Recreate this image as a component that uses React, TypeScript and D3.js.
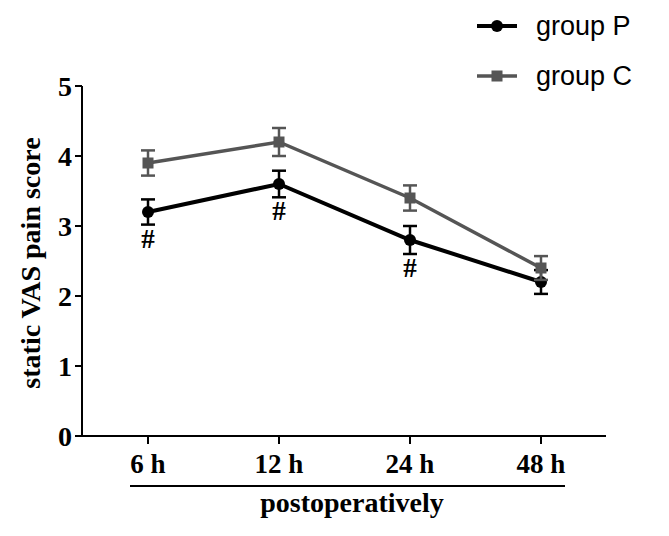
import * as d3 from "d3";

const timepoints = ["6 h", "12 h", "24 h", "48 h"];
const groupP = [3.2, 3.6, 2.8, 2.2];
const groupPErr = [0.18, 0.19, 0.2, 0.17];
const groupC = [3.9, 4.2, 3.4, 2.4];
const groupCErr = [0.18, 0.2, 0.18, 0.17];
const sigMarks = [true, true, true, false];
const yTicks = [0, 1, 2, 3, 4, 5];

const serif = "'Liberation Serif', 'Times New Roman', serif";
const sans = "'Liberation Sans', Arial, sans-serif";

export default function App() {
  const W = 669;
  const H = 536;
  const axisX = 82;
  const axisY = 436;
  const axisRight = 606;

  const x = d3.scalePoint<string>().domain(timepoints).range([148, 541]);
  const y = d3.scaleLinear().domain([0, 5]).range([axisY, 86]);

  const line = d3
    .line<number>()
    .x((_, i) => x(timepoints[i]) as number)
    .y((d) => y(d));

  const series = [
    { name: "group P", vals: groupP, err: groupPErr, color: "#000", width: 4, shape: "circle" },
    { name: "group C", vals: groupC, err: groupCErr, color: "#555", width: 3.5, shape: "square" },
  ];

  const marker = (shape: string, cx: number, cy: number, color: string, key: string) =>
    shape === "circle" ? (
      <circle key={key} cx={cx} cy={cy} r={6} fill={color} />
    ) : (
      <rect key={key} x={cx - 5.5} y={cy - 5.5} width={11} height={11} fill={color} />
    );

  return (
    <svg width={W} height={H} style={{ position: "absolute", left: 0, top: 0, background: "#fff" }}>
      {/* y axis */}
      <line x1={axisX} x2={axisX} y1={y(5)} y2={axisY} stroke="#000" strokeWidth={2} />
      {yTicks.map((t) => (
        <g key={t}>
          <line x1={axisX - 7} x2={axisX} y1={y(t)} y2={y(t)} stroke="#000" strokeWidth={2} />
          <text
            x={axisX - 10}
            y={y(t)}
            dy="0.35em"
            textAnchor="end"
            fontFamily={serif}
            fontWeight="bold"
            fontSize={28}
          >
            {t}
          </text>
        </g>
      ))}
      <text
        transform={`translate(40, ${(y(5) + axisY) / 2 + 2}) rotate(-90)`}
        textAnchor="middle"
        fontFamily={serif}
        fontWeight="bold"
        fontSize={28}
      >
        static VAS pain score
      </text>

      {/* x axis */}
      <line x1={axisX} x2={axisRight} y1={axisY} y2={axisY} stroke="#000" strokeWidth={2} />
      {timepoints.map((t) => (
        <g key={t}>
          <line x1={x(t)} x2={x(t)} y1={axisY} y2={axisY + 8} stroke="#000" strokeWidth={2} />
          <text
            x={x(t)}
            y={axisY + 37}
            textAnchor="middle"
            fontFamily={serif}
            fontWeight="bold"
            fontSize={27}
          >
            {t}
          </text>
        </g>
      ))}
      <line x1={130} x2={565} y1={486} y2={486} stroke="#000" strokeWidth={2} />
      <text x={352} y={512} textAnchor="middle" fontFamily={serif} fontWeight="bold" fontSize={28}>
        postoperatively
      </text>

      {/* series */}
      {series.map((s) => (
        <g key={s.name}>
          <path d={line(s.vals) ?? ""} fill="none" stroke={s.color} strokeWidth={s.width} />
          {s.vals.map((v, i) => {
            const cx = x(timepoints[i]) as number;
            const hi = y(v + s.err[i]);
            const lo = y(v - s.err[i]);
            return (
              <g key={i} stroke={s.color} strokeWidth={2.5}>
                <line x1={cx} x2={cx} y1={hi} y2={lo} />
                <line x1={cx - 7} x2={cx + 7} y1={hi} y2={hi} />
                <line x1={cx - 7} x2={cx + 7} y1={lo} y2={lo} />
              </g>
            );
          })}
          {s.vals.map((v, i) =>
            marker(s.shape, x(timepoints[i]) as number, y(v), s.color, `m${i}`)
          )}
        </g>
      ))}

      {/* significance marks */}
      {groupP.map((v, i) =>
        sigMarks[i] ? (
          <text
            key={i}
            x={x(timepoints[i])}
            y={y(v - groupPErr[i]) + 23}
            textAnchor="middle"
            fontFamily={serif}
            fontWeight="bold"
            fontSize={27}
          >
            #
          </text>
        ) : null
      )}

      {/* legend */}
      {series.map((s, i) => {
        const ly = 26 + i * 50;
        return (
          <g key={s.name}>
            <line x1={477} x2={517} y1={ly} y2={ly} stroke={s.color} strokeWidth={s.width} />
            {marker(s.shape, 497, ly, s.color, "lm")}
            <text x={536} y={ly} dy="0.35em" fontFamily={sans} fontSize={27} fill="#000">
              {s.name}
            </text>
          </g>
        );
      })}
    </svg>
  );
}
